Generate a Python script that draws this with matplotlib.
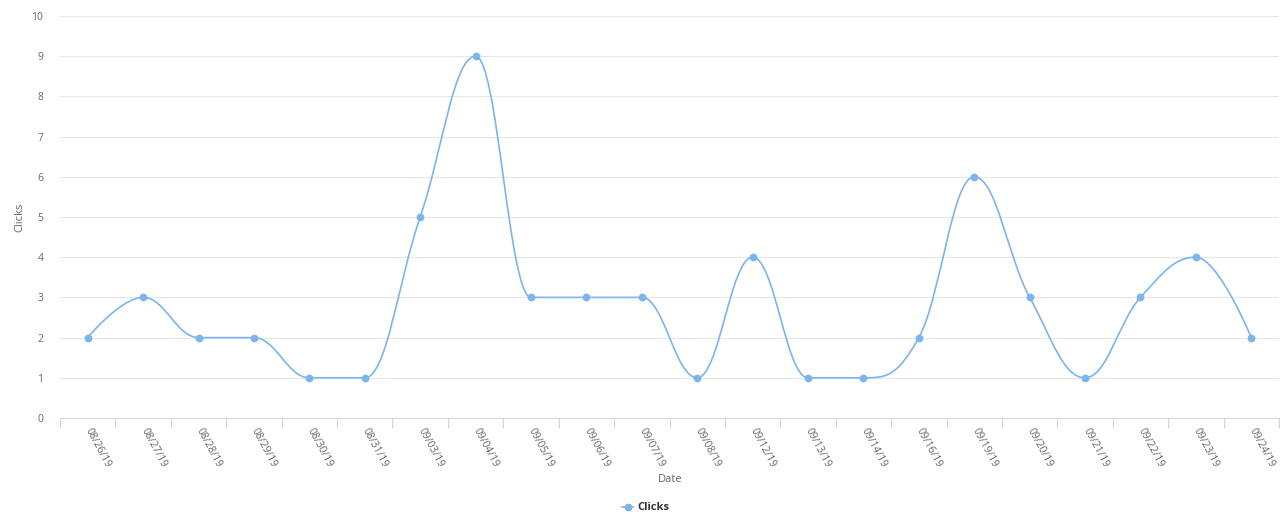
import matplotlib.pyplot as plt
import matplotlib.transforms as mtransforms
from matplotlib.path import Path
from matplotlib.patches import PathPatch
from matplotlib.lines import Line2D

# data
dates = ['08/26/19', '08/27/19', '08/28/19', '08/29/19', '08/30/19', '08/31/19',
         '09/03/19', '09/04/19', '09/05/19', '09/06/19', '09/07/19', '09/08/19',
         '09/12/19', '09/13/19', '09/14/19', '09/16/19', '09/19/19', '09/20/19',
         '09/21/19', '09/22/19', '09/23/19', '09/24/19']
clicks = [2, 3, 2, 2, 1, 1, 5, 9, 3, 3, 3, 1, 4, 1, 1, 2, 6, 3, 1, 3, 4, 2]
y_ticks = list(range(0, 11))

LINE = '#7cb5ec'
GRID = '#e6e6e6'
AXIS = '#ccd6eb'
LABEL = '#666666'


def spline_path(xs, ys, smoothing=1.5):
    """Bezier path with the same control point rule as a Highcharts spline."""
    denom = smoothing + 1
    n = len(xs)
    verts = [(xs[0], ys[0])]
    codes = [Path.MOVETO]
    right = [None] * n
    for i in range(1, n):
        px, py = xs[i], ys[i]
        lx, ly = xs[i - 1], ys[i - 1]
        left_c = (px, py)
        if i < n - 1:
            nx, ny = xs[i + 1], ys[i + 1]
            lcx = (smoothing * px + lx) / denom
            lcy = (smoothing * py + ly) / denom
            rcx = (smoothing * px + nx) / denom
            rcy = (smoothing * py + ny) / denom
            corr = 0
            if rcx != lcx:
                corr = (rcy - lcy) * (rcx - px) / (rcx - lcx) + py - rcy
            lcy += corr
            rcy += corr
            if lcy > ly and lcy > py:
                lcy = max(ly, py)
                rcy = 2 * py - lcy
            elif lcy < ly and lcy < py:
                lcy = min(ly, py)
                rcy = 2 * py - lcy
            if rcy > ny and rcy > py:
                rcy = max(ny, py)
                lcy = 2 * py - rcy
            elif rcy < ny and rcy < py:
                rcy = min(ny, py)
                lcy = 2 * py - rcy
            left_c = (lcx, lcy)
            right[i] = (rcx, rcy)
        prev_c = right[i - 1] if right[i - 1] is not None else (lx, ly)
        verts += [prev_c, left_c, (px, py)]
        codes += [Path.CURVE4] * 3
    return Path(verts, codes)


def main():
    plt.rcParams['font.family'] = ['Open Sans', 'DejaVu Sans']

    fig = plt.figure(figsize=(12.86, 5.23), dpi=100)
    ax = fig.add_axes([60 / 1286, 105 / 523, 1219 / 1286, 402 / 523])

    xs = list(range(len(dates)))
    ax.add_patch(PathPatch(spline_path(xs, clicks), facecolor='none',
                           edgecolor=LINE, lw=1.2, zorder=3))
    ax.plot(xs, clicks, ls='none', marker='o', ms=4.6, color=LINE,
            mec=LINE, zorder=4, clip_on=False)

    ax.set_xlim(-0.5, len(dates) - 0.5)
    ax.set_ylim(0, 10)

    # grid
    ax.set_yticks(y_ticks)
    ax.set_yticklabels([str(t) for t in y_ticks], color=LABEL, fontsize=7.5)
    ax.tick_params(axis='y', length=0, pad=12)
    for t in y_ticks[1:]:
        ax.axhline(t, color=GRID, lw=0.75, zorder=1)

    # x axis: ticks between categories, labels at centers
    ax.set_xticks([i - 0.5 for i in range(len(dates) + 1)])
    ax.set_xticklabels([])
    ax.tick_params(axis='x', length=7, width=0.75, color=AXIS, direction='out')
    ax.set_xticks(xs, minor=True)
    ax.set_xticklabels(dates, minor=True, rotation=-62, ha='left', va='top',
                       rotation_mode='anchor', color=LABEL, fontsize=7.5)
    ax.tick_params(axis='x', which='minor', length=0, pad=6)
    shift = mtransforms.ScaledTranslation(5 / 100, 0, fig.dpi_scale_trans)
    for lbl in ax.get_xticklabels(minor=True):
        lbl.set_transform(lbl.get_transform() + shift)

    for side in ['top', 'right', 'left']:
        ax.spines[side].set_visible(False)
    ax.spines['bottom'].set_color(AXIS)
    ax.spines['bottom'].set_linewidth(0.75)

    ax.set_ylabel('Clicks', color=LABEL, fontsize=8)
    ax.yaxis.set_label_coords(-35 / 1219, 0.5)
    fig.text(670 / 1286, 1 - 479 / 523, 'Date', color=LABEL, fontsize=8,
             ha='center', va='center')

    # legend
    handle = Line2D([], [], color=LINE, lw=1.2, marker='o', ms=4.6)
    fig.legend([handle], ['Clicks'], loc='center', bbox_to_anchor=(646 / 1286, 1 - 508 / 523),
               frameon=False, prop={'weight': 'bold', 'size': 8},
               labelcolor='#333333', handlelength=1.0, handletextpad=0.4)

    fig.savefig('out.png', dpi=100)


if __name__ == "__main__":
    main()
